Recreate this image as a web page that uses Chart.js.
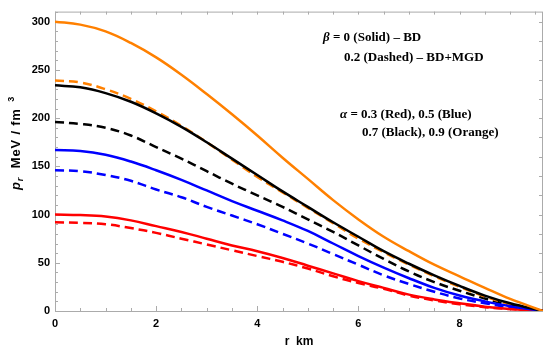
<!DOCTYPE html>
<html>
<head>
<meta charset="utf-8">
<script src="https://cdn.jsdelivr.net/npm/chart.js@4.4.1/dist/chart.umd.min.js"></script>
<style>
  html, body { margin:0; padding:0; background:#fff; }
  #wrap { width:550px; height:352px; }
</style>
</head>
<body>
<div id="wrap"><canvas id="chart" width="550" height="352"></canvas></div>
<script>
// radial coordinate r (km) and radial pressure p_r (MeV/fm^3)
const radius      = [0, 0.5, 1, 1.5, 2, 2.5, 3, 3.5, 4, 4.5, 5, 5.5, 6, 6.5, 7, 7.5, 8, 8.5, 9, 9.65];
const redSolid    = [100, 99.5, 98, 94, 88, 82, 75, 68, 62, 55, 47, 39, 31, 24, 17, 12, 8, 4.5, 2, 0];
const redDashed   = [92, 91.5, 90, 86, 81, 75, 69, 63, 57, 51, 44, 36, 29, 23, 16, 11, 7, 4, 2, 0];
const blueSolid   = [167, 166, 162, 155, 146, 136, 125, 114, 104, 94, 83, 70, 57, 45, 34, 24, 16, 10, 5, 0];
const blueDashed  = [146, 145, 141, 135, 126, 118, 108, 99, 90, 80, 70, 59, 48, 37, 28, 20, 13, 8, 4, 0];
const blackSolid  = [234, 232, 226, 217, 205, 191, 175, 158, 141, 124, 108, 92, 77, 62, 49, 37, 26, 16, 8, 0];
const blackDashed = [196, 194, 190, 182, 170, 158, 145, 132, 120, 108, 95, 82, 68, 54, 41, 30, 21, 13, 6, 0];
const orangeSolid = [300, 297, 290, 278, 263, 245, 225, 204, 182, 159, 137, 115, 95, 77, 62, 48, 36, 24, 12.5, 0];
const orangeDashed= [239, 237, 230, 220, 207, 192, 175, 157, 139, 123, 107, 91, 75, 61, 48, 36, 25, 15, 7, 0];

const xTickValues = [0, 2, 4, 6, 8];
const yTickValues = [0, 50, 100, 150, 200, 250, 300];

const ORANGE = '#ff8000';
const SANS = '"Liberation Sans", Arial, sans-serif';
const pts = arr => arr.map((v, i) => ({ x: radius[i], y: v }));

function series(data, color, dashed, order){
    return {
        data: pts(data),
        borderColor: color,
        borderWidth: 2.5,
        borderDash: dashed ? [9, 5] : [],
        pointRadius: 0,
        fill: false,
        tension: 0.4,
        order: order
    };
}

// frame with inward ticks, like the original
const framePlugin = {
    id: 'frame',
    beforeDatasetsDraw(chart){
        const {ctx, chartArea: a, scales: {x, y}} = chart;
        ctx.save();
        ctx.strokeStyle = '#ababab';
        ctx.lineWidth = 1;
        ctx.strokeRect(a.left + 0.5, a.top + 0.5, a.right - a.left - 1, a.bottom - a.top);
        ctx.beginPath();
        for (let v = 0; v <= x.max; v += 0.5) {
            const px = Math.round(x.getPixelForValue(v)) + 0.5;
            const len = (v % 2 === 0) ? 5 : 3;
            ctx.moveTo(px, a.bottom); ctx.lineTo(px, a.bottom - len);
            ctx.moveTo(px, a.top); ctx.lineTo(px, a.top + 3);
        }
        for (let v = 0; v <= y.max; v += 10) {
            const py = Math.round(y.getPixelForValue(v)) + 0.5;
            const len = (v % 50 === 0) ? 5 : 3;
            ctx.moveTo(a.left, py); ctx.lineTo(a.left + len, py);
            if (v % 20 === 0) { ctx.moveTo(a.right, py); ctx.lineTo(a.right - 4, py); }
        }
        ctx.stroke();
        ctx.restore();
    },
    afterDraw(chart){
        const {ctx} = chart;
        ctx.save();
        ctx.fillStyle = '#000';
        ctx.textBaseline = 'alphabetic';

        // x title
        ctx.font = 'bold 12px ' + SANS;
        ctx.textAlign = 'center';
        ctx.fillText('r  km', 299, 345);

        // y title (rotated)
        ctx.translate(20, 190);
        ctx.rotate(-Math.PI / 2);
        ctx.textAlign = 'left';
        ctx.letterSpacing = '0.8px';
        let cx = 0;
        ctx.font = 'italic bold 13px ' + SANS;
        ctx.fillText('p', cx, 0); cx += ctx.measureText('p').width;
        ctx.font = 'italic bold 9px ' + SANS;
        ctx.fillText('r', cx, 3); cx += ctx.measureText('r').width;
        ctx.font = 'bold 13px ' + SANS;
        const mid = '  MeV / fm ';
        ctx.fillText(mid, cx, 0); cx += ctx.measureText(mid).width;
        ctx.font = 'bold 9px ' + SANS;
        ctx.fillText('3', cx + 2, -6);
        ctx.restore();

        // annotations
        ctx.save();
        ctx.fillStyle = '#000';
        ctx.textAlign = 'left';
        const serif = '"Liberation Serif", "Times New Roman", serif';
        const line = (sym, rest, x0, y0) => {
            let cx = x0;
            if (sym) {
                ctx.font = 'italic bold 13px ' + serif;
                ctx.fillText(sym, cx, y0); cx += ctx.measureText(sym).width;
            }
            ctx.font = 'bold 13px ' + serif;
            ctx.fillText(rest, cx, y0);
        };
        line('β', ' = 0 (Solid) \u2013 BD', 323, 41);
        line('', '0.2 (Dashed) \u2013 BD+MGD', 344, 61);
        line('α', ' = 0.3 (Red), 0.5 (Blue)', 340, 118);
        line('', '0.7 (Black), 0.9 (Orange)', 362, 136);
        ctx.restore();
    }
};

new Chart(document.getElementById('chart'), {
    type: 'line',
    data: {
        datasets: [
            series(orangeSolid, ORANGE, false, 1),
            series(blackSolid, '#000000', false, 1),
            series(orangeDashed, ORANGE, true, 2),
            series(blackDashed, '#000000', true, 2),
            series(blueSolid, '#0000ff', false, 1),
            series(blueDashed, '#0000ff', true, 2),
            series(redSolid, '#ff0000', false, 1),
            series(redDashed, '#ff0000', true, 2)
        ]
    },
    options: {
        responsive: false,
        animation: false,
        devicePixelRatio: 1,
        layout: { padding: { left: 0, top: 8, right: 7, bottom: 0 } },
        plugins: { legend: { display: false }, tooltip: { enabled: false } },
        scales: {
            x: {
                type: 'linear', min: 0, max: 9.65,
                grid: { display: false, drawTicks: false },
                border: { display: false },
                afterBuildTicks: s => { s.ticks = xTickValues.map(v => ({ value: v })); },
                afterFit: s => { s.height = 41; },
                ticks: { color: '#000', padding: 6, maxRotation: 0,
                         font: { family: SANS, size: 11, weight: 'bold' } }
            },
            y: {
                type: 'linear', min: 0, max: 310.5,
                grid: { display: false, drawTicks: false },
                border: { display: false },
                afterBuildTicks: s => { s.ticks = yTickValues.map(v => ({ value: v })); },
                afterFit: s => { s.width = 55; },
                ticks: { color: '#000', padding: 5,
                         font: { family: SANS, size: 11, weight: 'bold' } }
            }
        }
    },
    plugins: [framePlugin]
});
</script>
</body>
</html>
